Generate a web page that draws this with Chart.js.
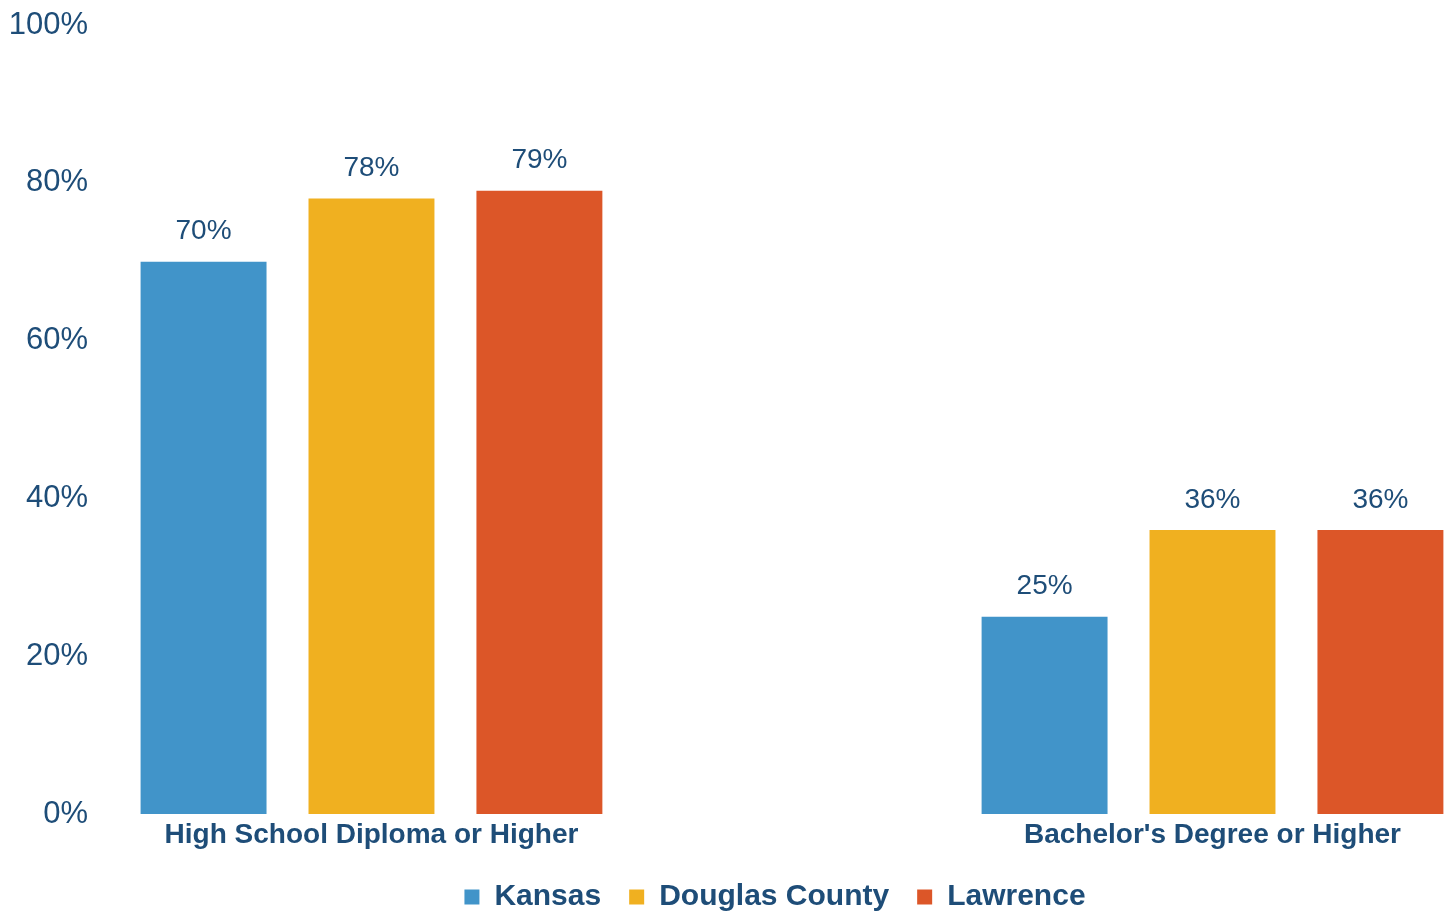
<!DOCTYPE html>
<html>
<head>
<meta charset="utf-8">
<title>Educational Attainment</title>
<script src="https://cdn.jsdelivr.net/npm/chart.js@4/dist/chart.umd.min.js"></script>
<style>
  html, body { margin: 0; padding: 0; background: #fff; }
  #wrap { width: 1450px; height: 913px; }
</style>
</head>
<body>
<div id="wrap"><canvas id="eduChart"></canvas></div>
<script>
const categories = ['High School Diploma or Higher', "Bachelor's Degree or Higher"];
const seriesNames = ['Kansas', 'Douglas County', 'Lawrence'];
const kansas = [70, 25];
const douglasCounty = [78, 36];
const lawrence = [79, 36];
const yTicks = [0, 20, 40, 60, 80, 100];

const colors = ['#4194c9', '#f0b020', '#dc5628'];
const textColor = '#1e4d78';
const fontFamily = '"Liberation Sans", Arial, Helvetica, sans-serif';

// percent labels above every bar
const valueLabels = {
    id: 'valueLabels',
    afterDatasetsDraw(chart) {
        const ctx = chart.ctx;
        ctx.save();
        ctx.font = '28px ' + fontFamily;
        ctx.fillStyle = textColor;
        ctx.textAlign = 'center';
        ctx.textBaseline = 'middle';
        chart.data.datasets.forEach((ds, di) => {
            chart.getDatasetMeta(di).data.forEach((bar, i) => {
                ctx.fillText(Math.round(ds.data[i].y) + '%', bar.x, bar.y - 30);
            });
        });
        ctx.restore();
    }
};

const seriesValues = [kansas, douglasCounty, lawrence];

new Chart(document.getElementById('eduChart'), {
    type: 'bar',
    data: {
        datasets: seriesNames.map((name, s) => ({
            label: name,
            data: seriesValues[s].map((v, i) => ({ x: i, y: v })),
            backgroundColor: colors[s],
            borderWidth: 0,
            categoryPercentage: 0.599,
            barPercentage: 0.75
        }))
    },
    options: {
        responsive: true,
        maintainAspectRatio: false,
        devicePixelRatio: 1,
        animation: false,
        layout: { padding: { top: 25, left: 0, right: 0, bottom: 0 } },
        scales: {
            x: {
                type: 'linear',
                offset: false,
                min: -0.3228,
                max: 1.2824,
                bounds: 'data',
                grid: { display: false, drawTicks: false },
                border: { display: false },
                afterBuildTicks: axis => { axis.ticks = categories.map((c, i) => ({ value: i })); },
                afterFit: axis => {
                    // the long labels sit well inside the area, no side padding needed
                    axis.paddingLeft = 0;
                    axis.paddingRight = 0;
                    axis.height = 40;
                },
                ticks: {
                    autoSkip: false,
                    maxRotation: 0,
                    padding: 4,
                    color: textColor,
                    font: { family: fontFamily, size: 28, weight: 'bold' },
                    callback: (value, index) => categories[index]
                }
            },
            y: {
                min: 0,
                max: 100,
                grid: { display: false, drawTicks: false },
                border: { display: false },
                afterBuildTicks: axis => { axis.ticks = yTicks.map(v => ({ value: v })); },
                afterFit: axis => {
                    axis.width = 100;
                    axis.paddingTop = 0;
                    axis.paddingBottom = 0;
                },
                ticks: {
                    padding: 12,
                    color: textColor,
                    font: { family: fontFamily, size: 31 },
                    callback: value => value + '%'
                }
            }
        },
        plugins: {
            legend: {
                position: 'bottom',
                fullSize: false,
                maxHeight: 59,
                labels: {
                    boxWidth: 15,
                    boxHeight: 15,
                    padding: 28,
                    color: textColor,
                    font: { family: fontFamily, size: 30, weight: 'bold' }
                }
            },
            tooltip: { enabled: false }
        }
    },
    plugins: [valueLabels]
});
</script>
</body>
</html>
